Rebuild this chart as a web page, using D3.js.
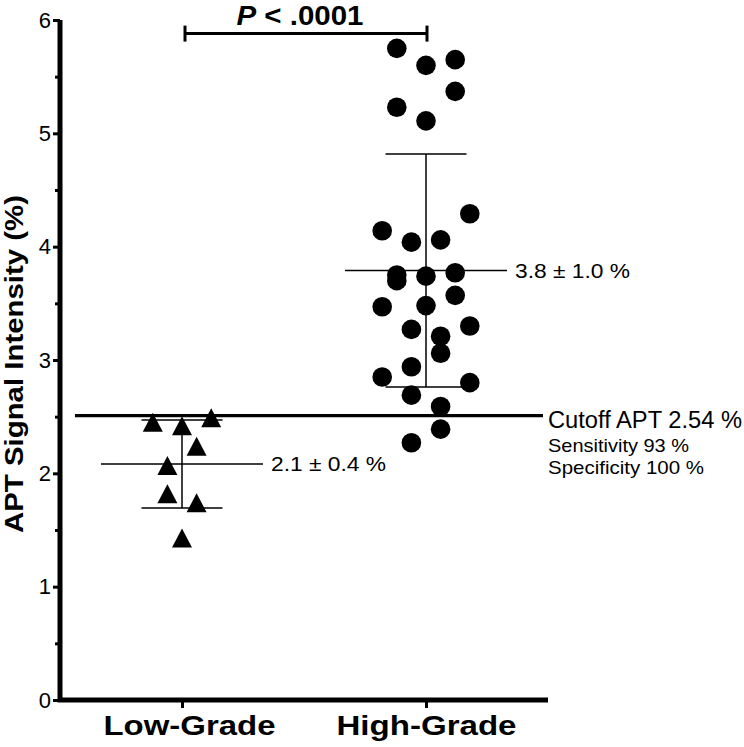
<!DOCTYPE html>
<html><head><meta charset="utf-8">
<script src="https://cdn.jsdelivr.net/npm/d3@7"></script>
<style>
body{margin:0;background:#fff}
svg{display:block}
</style>
</head><body>
<svg id="c" width="744" height="747"></svg>
<script>
// ---- data ----
const categories = ["Low-Grade", "High-Grade"];
const lowValues  = [2.45, 2.42, 2.49, 2.24, 2.07, 1.82, 1.74, 1.43];
const lowColumns = [-2, 0, 2, 1, -1, -1, 1, 0];
const highValues  = [5.75, 5.60, 5.65, 5.37, 5.23, 5.11, 4.29, 4.14, 4.04, 4.06,
                     3.75, 3.70, 3.74, 3.77, 3.57, 3.47, 3.48, 3.27, 3.30, 3.21,
                     3.06, 2.94, 2.85, 2.80, 2.69, 2.59, 2.39, 2.27];
const highColumns = [-2, 0, 2, 2, -2, 0, 3, -3, -1, 1,
                     -2, -2, 0, 2, 2, -3, 0, -1, 3, 1,
                     1, -1, -3, 3, -1, 1, 1, -1];
const yTicks = [0, 1, 2, 3, 4, 5, 6];
const yMinorTicks = [0.5, 1.5, 2.5, 3.5, 4.5, 5.5];
const cutoffLevel = 2.51;
const cutoffLabel = "Cutoff APT 2.54 %";
const sensitivityLabel = "Sensitivity 93 %";
const specificityLabel = "Specificity 100 %";
const pSymbol = "P";
const pText = " < .0001";
const bracketLevel = 5.88;
const yTitle = "APT Signal Intensity (%)";

// ---- drawing ----
const FONT = "'Liberation Sans', Arial, Helvetica, sans-serif";
const svg = d3.select("#c");
const y = d3.scaleLinear().domain([0, 6]).range([700, 20]);
const x = d3.scalePoint().domain(categories).range([60, 548]).padding(0.5);
const col = d3.scaleLinear().domain([0, 1]).range([0, 14.6]);
const f1 = d3.format(".1f");

const groups = [
  {cat: categories[0], values: lowValues, cols: lowColumns, shape: "tri"},
  {cat: categories[1], values: highValues, cols: highColumns, shape: "circle"}
];

// cutoff line
svg.append("line")
  .attr("x1", x.range()[0] + 15).attr("x2", x.range()[1] - 5)
  .attr("y1", y(cutoffLevel)).attr("y2", y(cutoffLevel))
  .style("stroke", "#000").style("stroke-width", "3.3px");

const cutTxt = [
  {t: cutoffLabel, dy: 12, fs: 23, len: 194},
  {t: sensitivityLabel, dy: 36, fs: 19, len: 141},
  {t: specificityLabel, dy: 58, fs: 19, len: 156}
];
svg.selectAll("text.cut").data(cutTxt).join("text").attr("class", "cut")
  .attr("x", x.range()[1]).attr("y", d => y(cutoffLevel) + d.dy)
  .style("font-family", FONT).style("font-size", d => d.fs + "px")
  .attr("textLength", d => d.len).attr("lengthAdjust", "spacingAndGlyphs")
  .text(d => d.t);

// error bars: mean ± SD
groups.forEach(g => {
  const cx = x(g.cat);
  const m = d3.mean(g.values), s = d3.deviation(g.values);
  const eb = svg.append("g").style("stroke", "#000").style("stroke-width", "1.5px");
  eb.append("line").attr("x1", cx - 81).attr("x2", cx + 81).attr("y1", y(m)).attr("y2", y(m));
  eb.append("line").attr("x1", cx - 40.5).attr("x2", cx + 40.5).attr("y1", y(m + s)).attr("y2", y(m + s));
  eb.append("line").attr("x1", cx - 40.5).attr("x2", cx + 40.5).attr("y1", y(m - s)).attr("y2", y(m - s));
  eb.append("line").attr("x1", cx).attr("x2", cx).attr("y1", y(m + s)).attr("y2", y(m - s));
  svg.append("text")
    .attr("x", cx + 89).attr("y", y(m) + 7)
    .style("font-family", FONT).style("font-size", "20px")
    .attr("textLength", 115).attr("lengthAdjust", "spacingAndGlyphs")
    .text(`${f1(m)} \u00B1 ${f1(s)} %`);
});

// points
const triangle = {draw(ctx) { ctx.moveTo(0, -9.5); ctx.lineTo(10, 9.5); ctx.lineTo(-10, 9.5); ctx.closePath(); }};
groups.forEach(g => {
  const pts = g.values.map((v, i) => ({v, c: g.cols[i]}));
  if (g.shape === "tri") {
    svg.append("g").selectAll("path").data(pts).join("path")
      .attr("transform", d => `translate(${x(g.cat) + col(d.c)},${y(d.v)})`)
      .attr("d", d3.symbol().type(triangle)())
      .attr("fill", "#000");
  } else {
    svg.append("g").selectAll("circle").data(pts).join("circle")
      .attr("cx", d => x(g.cat) + col(d.c)).attr("cy", d => y(d.v))
      .attr("r", 9.8).attr("fill", "#000");
  }
});

// y axis (ticks via d3 axis, domain drawn as thick line)
const yAx = svg.append("g").attr("transform", "translate(60,0)")
  .call(d3.axisLeft(y).tickValues(yTicks).tickSize(7).tickSizeOuter(0).tickPadding(2).tickFormat(d3.format("d")));
yAx.select(".domain").remove();
yAx.selectAll(".tick line").style("stroke", "#000").style("stroke-width", "3px");
yAx.selectAll(".tick text").style("fill", "#000")
  .style("font-family", FONT).style("font-size", "22px");
const yMin = svg.append("g").attr("transform", "translate(60,0)")
  .call(d3.axisLeft(y).tickValues(yMinorTicks).tickSize(5).tickFormat(""));
yMin.select(".domain").remove();
yMin.selectAll(".tick line").style("stroke", "#000").style("stroke-width", "3px");

// x axis
const xAx = svg.append("g").attr("transform", `translate(0,${y(0)})`)
  .call(d3.axisBottom(x).tickSize(8).tickSizeOuter(0));
xAx.select(".domain").remove();
xAx.selectAll(".tick line").style("stroke", "#000").style("stroke-width", "3px");
const catLen = {"Low-Grade": 172, "High-Grade": 180};
const catShift = {"Low-Grade": 7, "High-Grade": 0};
xAx.selectAll(".tick text")
  .attr("y", 35).attr("dy", 0).attr("dx", d => catShift[d])
  .style("font-family", FONT).style("font-size", "28px").style("font-weight", "bold").style("fill", "#000")
  .attr("textLength", d => catLen[d]).attr("lengthAdjust", "spacingAndGlyphs");

// axis lines
svg.append("path")
  .attr("d", `M${x.range()[0]},${y(6)}V${y(0)}H${x.range()[1]}`)
  .style("fill", "none").style("stroke", "#000").style("stroke-width", "5px")
  .style("stroke-linejoin", "miter");

// y title
svg.append("text")
  .attr("transform", `translate(23,${(y(0) + y(6)) / 2 + 4}) rotate(-90)`)
  .attr("text-anchor", "middle")
  .style("font-family", FONT).style("font-size", "26px").style("font-weight", "bold")
  .attr("textLength", 338).attr("lengthAdjust", "spacingAndGlyphs")
  .text(yTitle);

// significance bracket
const bx0 = x(categories[0]) + 3, bx1 = x(categories[1]) + 1, by = y(bracketLevel);
const br = svg.append("g").style("stroke", "#000").style("stroke-width", "3px");
br.append("line").attr("x1", bx0).attr("x2", bx1).attr("y1", by).attr("y2", by);
br.append("line").attr("x1", bx0).attr("x2", bx0).attr("y1", by - 8).attr("y2", by + 8);
br.append("line").attr("x1", bx1).attr("x2", bx1).attr("y1", by - 8).attr("y2", by + 8);
const pt = svg.append("text")
  .attr("x", (bx0 + bx1) / 2 - 6).attr("y", by - 9)
  .attr("text-anchor", "middle")
  .style("font-family", FONT).style("font-size", "27px").style("font-weight", "bold")
  .attr("textLength", 127).attr("lengthAdjust", "spacingAndGlyphs");
pt.append("tspan").style("font-style", "italic").text(pSymbol);
pt.append("tspan").text(pText);
</script>
</body></html>
